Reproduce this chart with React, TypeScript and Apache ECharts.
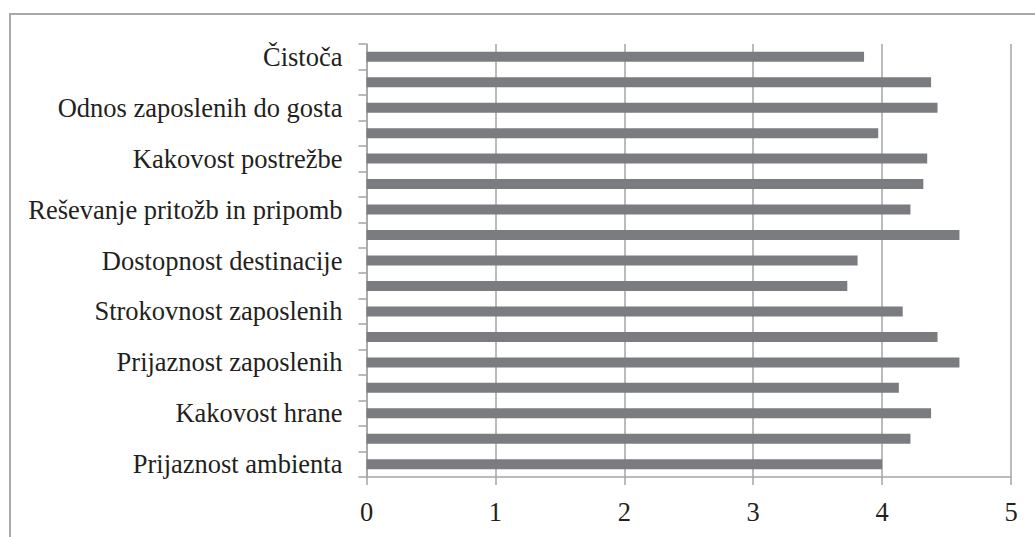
import React, { useEffect, useRef } from "react";
import * as echarts from "echarts";

// Categories listed top to bottom; unlabeled rows keep an empty name.
const categories: string[] = [
  "Čistoča",
  "",
  "Odnos zaposlenih do gosta",
  "",
  "Kakovost postrežbe",
  "",
  "Reševanje pritožb in pripomb",
  "",
  "Dostopnost destinacije",
  "",
  "Strokovnost zaposlenih",
  "",
  "Prijaznost zaposlenih",
  "",
  "Kakovost hrane",
  "",
  "Prijaznost ambienta",
];

// Average scores, same order as categories.
const scores: number[] = [
  3.86, 4.38, 4.43, 3.97, 4.35, 4.32, 4.22, 4.6, 3.81, 3.73, 4.16, 4.43, 4.6,
  4.13, 4.38, 4.22, 4.0,
];

const xTicks = { min: 0, max: 5, interval: 1 };

const FONT = '"Liberation Serif", "Times New Roman", serif';
const GRID_COLOR = "#a5a5a9";
const TEXT_COLOR = "#231f20";
const BAR_COLOR = "#7b7c80";

export default function App() {
  const ref = useRef<HTMLDivElement>(null);

  useEffect(() => {
    if (!ref.current) return;
    const chart = echarts.init(ref.current, undefined, { renderer: "svg" });
    chart.setOption({
      animation: false,
      backgroundColor: "#ffffff",
      graphic: [
        {
          type: "rect",
          shape: { x: 10, y: 14, width: 1200, height: 700 },
          style: { fill: "none", stroke: "#a9a9ad", lineWidth: 2 },
          silent: true,
        },
      ],
      grid: { left: 366.5, top: 44, right: 24, bottom: 60, containLabel: false },
      xAxis: {
        type: "value",
        min: xTicks.min,
        max: xTicks.max,
        interval: xTicks.interval,
        axisLine: { show: true, lineStyle: { color: GRID_COLOR, width: 1.5 } },
        axisTick: { show: true, length: 8, lineStyle: { color: GRID_COLOR, width: 1.5 } },
        splitLine: { show: true, lineStyle: { color: GRID_COLOR, width: 1.5 } },
        axisLabel: {
          color: TEXT_COLOR,
          fontFamily: FONT,
          fontSize: 26.5,
          margin: 21,
        },
      },
      yAxis: {
        type: "category",
        data: categories,
        inverse: true,
        axisLine: { show: true, lineStyle: { color: GRID_COLOR, width: 1.5 } },
        axisTick: {
          show: true,
          interval: 0,
          length: 8,
          lineStyle: { color: GRID_COLOR, width: 1.5 },
        },
        axisLabel: {
          interval: 0,
          color: TEXT_COLOR,
          fontFamily: FONT,
          fontSize: 26.5,
          margin: 24,
        },
        splitLine: { show: false },
      },
      series: [
        {
          type: "bar",
          data: scores,
          barWidth: 10,
          itemStyle: { color: BAR_COLOR },
        },
      ],
    });
    return () => chart.dispose();
  }, []);

  return (
    <div
      ref={ref}
      style={{ position: "fixed", left: 0, top: 0, width: 1035, height: 537 }}
    />
  );
}
